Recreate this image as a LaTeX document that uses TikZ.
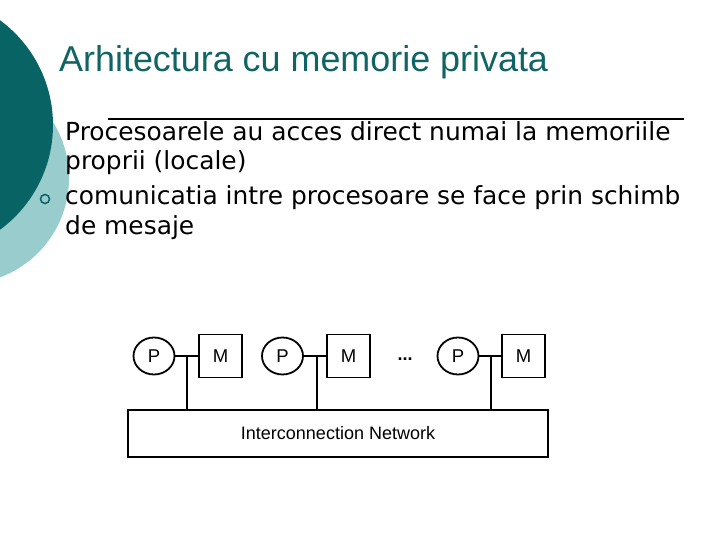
\documentclass[tikz,border=0pt]{standalone}
\usepackage{fontspec}
\setmainfont{Liberation Sans}
\newfontfamily\bodyfont{DejaVu Sans}
\usetikzlibrary{shapes.geometric}
\definecolor{darkteal}{RGB}{8,100,100}
\definecolor{lightteal}{RGB}{153,204,204}
\definecolor{titleteal}{RGB}{16,100,100}
\tikzset{
  proc/.style={draw, line width=1.8pt, ellipse, minimum width=41pt, minimum height=37pt, inner sep=0pt, font=\fontsize{18.5}{20}\selectfont},
  mem/.style={draw, line width=1.8pt, rectangle, minimum width=43pt, minimum height=43pt, inner sep=0pt, font=\fontsize{18.5}{20}\selectfont},
  wire/.style={line width=1.8pt},
  bodytext/.style={anchor=base west, inner sep=0pt, font=\bodyfont\fontsize{24.9}{29}\selectfont},
}
\begin{document}
\begin{tikzpicture}[x=1pt,y=-1pt]
\useasboundingbox (0,0) rectangle (720,540);
\clip (0,0) rectangle (720,540);
% decorative circles
\fill[lightteal] (-37,178) circle (106);
\fill[darkteal] (-77,125) circle (130);
% title
\node[anchor=base west, inner sep=0pt, text=titleteal, font=\fontsize{35.9}{40}\selectfont] (title) at (59,72) {Arhitectura cu memorie privata};
% stray line above the text
\coordinate (ls) at (108,119);
\coordinate (le) at (684,119);
\draw[line width=1.4pt] (ls) -- (le);
% bullet text
\node[bodytext] (l1) at (65,141) {Procesoarele au acces direct numai la memoriile};
\node[bodytext] (l2) at (65,170) {proprii (locale)};
\node[bodytext] (l3) at (65,205) {comunicatia intre procesoare se face prin schimb};
\node[bodytext] (l4) at (65,234) {de mesaje};
\node[draw=darkteal, line width=1.5pt, circle, minimum size=9pt, inner sep=0pt] (b2) at (45,199) {};
% diagram
\node[proc] (p1) at (154,356) {P};
\node[mem]  (m1) at (220.5,356) {M};
\node[proc] (p2) at (282.5,356) {P};
\node[mem]  (m2) at (348.5,356) {M};
\node[proc] (p3) at (458,356) {P};
\node[mem]  (m3) at (523.5,356) {M};
\node[font=\fontsize{18}{20}\selectfont\bfseries, inner sep=0pt] (dots) at (405,359) {...};
\node[draw, line width=1.8pt, minimum width=420pt, minimum height=47pt, inner sep=0pt, font=\fontsize{18}{20}\selectfont] (net) at (338,433.5) {Interconnection Network};
\coordinate (j1) at (187,356);
\coordinate (j2) at (317,356);
\coordinate (j3) at (491,356);
\draw[wire] (p1) -- (m1);
\draw[wire] (p2) -- (m2);
\draw[wire] (p3) -- (m3);
\draw[wire] (j1) -- (j1 |- net.north);
\draw[wire] (j2) -- (j2 |- net.north);
\draw[wire] (j3) -- (j3 |- net.north);
\end{tikzpicture}
\end{document}
